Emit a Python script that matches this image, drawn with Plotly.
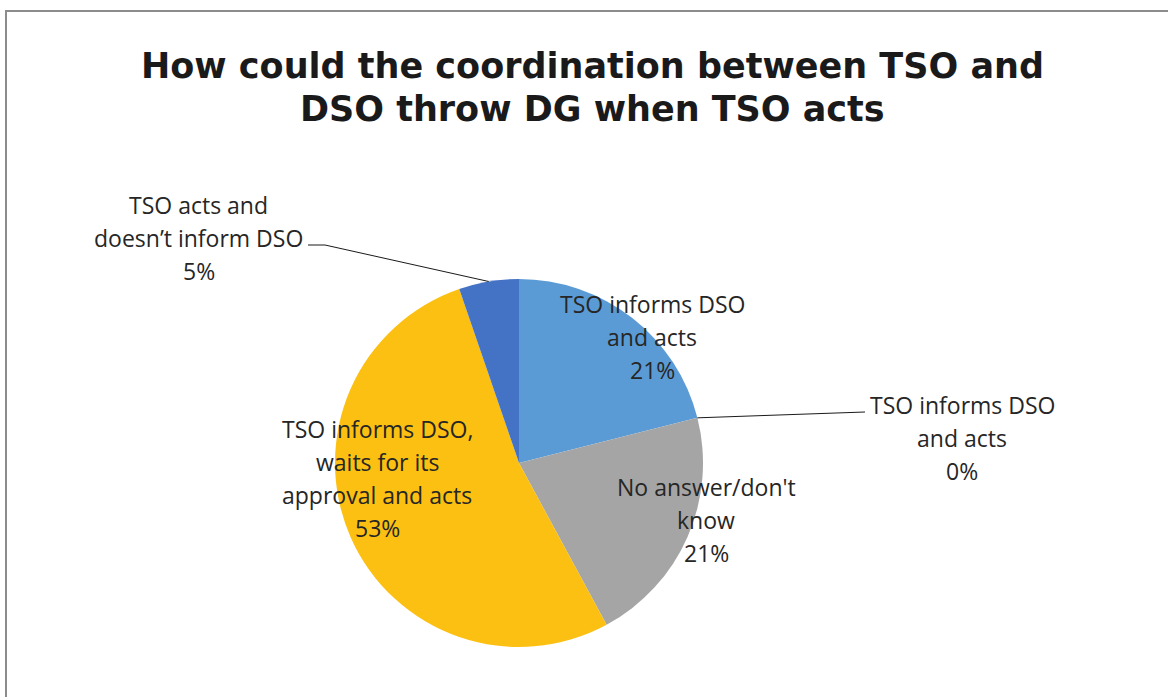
import math
import plotly.graph_objects as go

# ---- data ----
labels = [
    "TSO informs DSO and acts",
    "TSO informs DSO and acts ",
    "No answer/don't know",
    "TSO informs DSO, waits for its approval and acts",
    "TSO acts and doesn't inform DSO",
]
values = [4, 0, 4, 10, 1]
colors = ["#5B9BD5", "#ED7D31", "#A5A5A5", "#FCC012", "#4472C4"]
label_lines = [
    ["TSO informs DSO", "and acts"],
    ["TSO informs DSO", "and acts"],
    ["No answer/don't", "know"],
    ["TSO informs DSO,", "waits for its", "approval and acts"],
    ["TSO acts and", "doesn\u2019t inform DSO"],
]
title_lines = ["How could the coordination between TSO and", "DSO throw DG when TSO acts"]

# ---- layout constants (pixels) ----
W, H = 1168, 697
CX, CY, R = 519, 463, 184
# label centre x and first line centre y, in pixels
label_pos = [(652, 304), (962, 405), (706, 487), (377, 429), (199, 205)]
LINE_GAP = 33


def px(x):
    return x / W


def py(y):
    return (H - y) / H


total = sum(values)
pcts = [round(100 * v / total) for v in values]

fig = go.Figure(
    go.Pie(
        labels=labels,
        values=values,
        sort=False,
        direction="clockwise",
        rotation=0,
        marker=dict(colors=colors, line=dict(width=0)),
        textinfo="none",
        hoverinfo="label+percent",
        showlegend=False,
        domain=dict(x=[px(CX - R), px(CX + R)], y=[py(CY + R), py(CY - R)]),
    )
)

annotations = []
font_lbl = dict(family="Open Sans", size=23, color="#262626")
for i, lines in enumerate(label_lines):
    lx, ly = label_pos[i]
    all_lines = lines + [f"{pcts[i]}%"]
    for k, t in enumerate(all_lines):
        annotations.append(
            dict(
                x=px(lx), y=py(ly + k * LINE_GAP), xref="paper", yref="paper",
                text=t, showarrow=False, xanchor="center", yanchor="middle",
                font=font_lbl,
            )
        )

for k, t in enumerate(title_lines):
    annotations.append(
        dict(
            x=px(592), y=py(66 + k * 43), xref="paper", yref="paper",
            text=f"<b>{t}</b>", showarrow=False, xanchor="center", yanchor="middle",
            font=dict(family="DejaVu Sans", size=35, color="#1a1a1a"),
        )
    )

# leader lines: from pie edge (computed from data) to label
cum = 0
edge_pts = []
for v in values:
    a0 = cum / total * 2 * math.pi
    cum += v
    a1 = cum / total * 2 * math.pi
    am = (a0 + a1) / 2
    edge_pts.append((CX + R * math.sin(am), CY - R * math.cos(am)))

shapes = []
# 0% slice
ex, ey = edge_pts[1]
shapes.append(dict(type="path", xref="paper", yref="paper",
                   path=f"M {px(ex)} {py(ey)} L {px(865)} {py(412)}",
                   line=dict(color="#1a1a1a", width=1)))
# 5% slice
ex, ey = edge_pts[4]
shapes.append(dict(type="path", xref="paper", yref="paper",
                   path=f"M {px(308)} {py(245)} L {px(325)} {py(245)} L {px(ex)} {py(ey)}",
                   line=dict(color="#1a1a1a", width=1)))
# chart border
shapes.append(dict(type="rect", xref="paper", yref="paper",
                   x0=px(6), y0=py(H + 10), x1=px(W + 10), y1=py(11),
                   line=dict(color="#8c8c8c", width=2), fillcolor="rgba(0,0,0,0)"))

fig.update_layout(
    width=W, height=H,
    margin=dict(l=0, r=0, t=0, b=0),
    paper_bgcolor="white",
    plot_bgcolor="white",
    annotations=annotations,
    shapes=shapes,
)

fig.write_html(
    "out.html",
    config={"displayModeBar": False},
    post_script="document.body.style.margin='0';document.body.style.overflow='hidden';",
)
